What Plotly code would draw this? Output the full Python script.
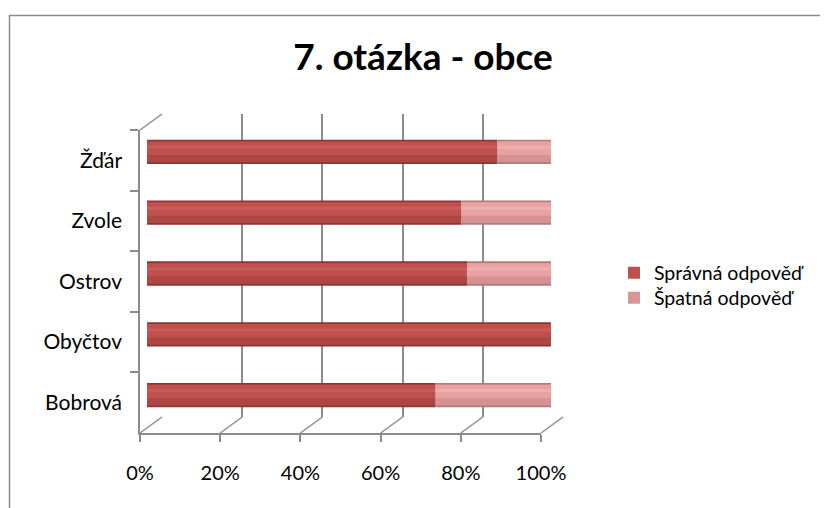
import plotly.graph_objects as go

# ---- data ----
categories = ["Bobrová", "Obyčtov", "Ostrov", "Zvole", "Žďár"]
spravna = [71.4, 100.0, 79.2, 77.8, 86.7]   # % Správná odpověď
spatna = [28.6, 0.0, 20.8, 22.2, 13.3]      # % Špatná odpověď
series_names = ["Správná odpověď", "Špatná odpověď"]
tick_vals = [0, 0.2, 0.4, 0.6, 0.8, 1.0]
title_text = "7. otázka - obce"

W, H = 828, 508
OFF = 8  # the page places the figure 8px from the window's top-left corner
FONT = "Lato"
GRID = "#8c8c8c"

def px_x(p):
    return (p - OFF) / W

def px_y(p):
    return 1 - (p - OFF) / H

# domains in window pixels
front_x = [140, 541]
front_y = [130, 433]
bars_x = [147, 551]
bars_y = [121.5, 425.5]
back_x = [162, 563]
back_y = [114, 417]

fig = go.Figure()

sp = [v / 100 for v in spravna]
wr = [v / 100 for v in spatna]

# back wall grid (subplot x2/y2, drawn before bars)
fig.add_trace(go.Scatter(x=[0, 1], y=[0, 1], mode="markers", marker=dict(opacity=0),
                         showlegend=False, hoverinfo="skip", xaxis="x2", yaxis="y2"))

# series colours: (edge, lower body, upper body, highlight)
c_ok = ("#8b3634", "#ae4643", "#c0504d", "#c85c59")
c_bad = ("#b07b7a", "#d69190", "#e8a2a1", "#eeb0ae")

def add_series(values, bases, cols, name, legend_color, legend_id):
    edge, low, up, hi = cols
    layers = [
        (edge, 0.40, None),
        (low, 0.34, None),
        (up, 0.22, -0.05),
        (hi, 0.05, 0.05),
    ]
    for col, w, off in layers:
        kw = dict(offset=off) if off is not None else {}
        fig.add_trace(go.Bar(x=values, y=categories, base=bases, orientation="h",
                             width=w, marker=dict(color=col, line_width=0),
                             xaxis="x3", yaxis="y3", name=name, showlegend=False,
                             hoverinfo="skip", **kw))
    # legend entry
    fig.add_trace(go.Bar(x=[None], y=[categories[0]], orientation="h",
                         marker=dict(color=legend_color, line_width=0),
                         xaxis="x3", yaxis="y3", name=name, showlegend=True,
                         legend=legend_id))

add_series(sp, [0] * len(sp), c_ok, series_names[0], "#c0504d", "legend")
add_series(wr, sp, c_bad, series_names[1], "#d99694", "legend2")

# invisible trace carrying the category labels on the front axis
fig.add_trace(go.Scatter(x=[0] * len(categories), y=categories, mode="markers",
                         marker=dict(opacity=0), showlegend=False, hoverinfo="skip",
                         xaxis="x", yaxis="y"))

legend_common = dict(xanchor="left", yanchor="middle", font=dict(size=19.5, family=FONT),
                     itemwidth=30, bgcolor="rgba(0,0,0,0)")

fig.update_layout(
    width=W, height=H,
    margin=dict(l=0, r=0, t=0, b=0, autoexpand=False),
    paper_bgcolor="white", plot_bgcolor="rgba(0,0,0,0)",
    barmode="overlay",
    font=dict(family=FONT, color="#000000", size=20),
    title=dict(text=title_text, x=(423 - OFF) / W, xanchor="center", xref="container",
               y=px_y(57), yanchor="middle", yref="container",
               font=dict(family=FONT, size=37, color="#000000", weight="bold")),
    # front axes (labels)
    xaxis=dict(domain=[px_x(front_x[0]), px_x(front_x[1])], range=[0, 1],
               tickvals=tick_vals, tickformat=".0%", showgrid=False, zeroline=False,
               showline=True, linecolor=GRID, linewidth=1.5,
               ticks="outside", ticklen=7, tickcolor=GRID, tickwidth=1.5,
               ticklabelstandoff=14, tickfont=dict(size=20),
               anchor="y", automargin=False),
    yaxis=dict(domain=[px_y(front_y[1]), px_y(front_y[0])], range=[-0.5, 4.5],
               type="category", categoryorder="array", categoryarray=categories,
               showgrid=False, zeroline=False, showline=True, linecolor=GRID, linewidth=1.5,
               ticks="outside", ticklen=8, tickcolor=GRID, tickwidth=1.5,
               tickson="boundaries", ticklabelstandoff=12, tickfont=dict(size=21),
               anchor="x", automargin=False),
    # back wall grid
    xaxis2=dict(domain=[px_x(back_x[0]), px_x(back_x[1])], range=[0, 1],
                tickvals=tick_vals, showgrid=True, gridcolor=GRID, gridwidth=1.5,
                showticklabels=False, ticks="", zeroline=False, showline=False,
                anchor="y2", automargin=False),
    yaxis2=dict(domain=[px_y(back_y[1]), px_y(back_y[0])], range=[0, 1],
                showgrid=False, showticklabels=False, ticks="", zeroline=False,
                anchor="x2", automargin=False),
    # bars
    xaxis3=dict(domain=[px_x(bars_x[0]), px_x(bars_x[1])], range=[0, 1],
                visible=False, anchor="y3", automargin=False),
    yaxis3=dict(domain=[px_y(bars_y[1]), px_y(bars_y[0])], range=[-0.5, 4.5],
                type="category", categoryorder="array", categoryarray=categories,
                visible=False, anchor="x3", automargin=False),
    legend=dict(x=px_x(614), y=px_y(273), **legend_common),
    legend2=dict(x=px_x(614), y=px_y(298), **legend_common),
)

shapes = []
# floor diagonals linking front ticks and back grid lines
for t in tick_vals:
    fx = front_x[0] + t * (front_x[1] - front_x[0])
    bx = back_x[0] + t * (back_x[1] - back_x[0])
    shapes.append(dict(type="line", xref="paper", yref="paper",
                       x0=px_x(fx), y0=px_y(front_y[1]), x1=px_x(bx), y1=px_y(back_y[1]),
                       line=dict(color=GRID, width=1.5), layer="below"))
# top-left diagonal of the side wall
shapes.append(dict(type="line", xref="paper", yref="paper",
                   x0=px_x(front_x[0]), y0=px_y(front_y[0]), x1=px_x(back_x[0]), y1=px_y(back_y[0]),
                   line=dict(color=GRID, width=1.5), layer="below"))
# chart border (top & left visible)
shapes.append(dict(type="rect", xref="paper", yref="paper",
                   x0=px_x(9.5), y0=-0.2, x1=1.2, y1=px_y(15.5),
                   line=dict(color="#8c8c8c", width=1.5), layer="below"))
fig.update_layout(shapes=shapes)

fig.write_html("out.html")
